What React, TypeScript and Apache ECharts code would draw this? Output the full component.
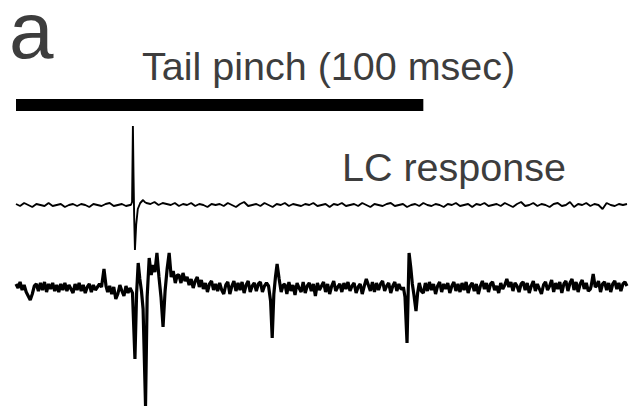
import React, { useEffect, useRef } from "react";
import * as echarts from "echarts";

// time axis in msec
const timeRange = [0, 150];
const stimulus = [0, 100]; // tail pinch, 100 msec
const stimulusLevel = 100;

// top trace (LC response): baseline noise, 1 ms step
const topStep = 1;
const topNoise = [
  1, -1, 2, 0, -2, 1, 0, -1, 2, -1,
  0, 1, -2, 0, 1, -1, 1, 0, -2, 1,
  0, -1, 1, 2, -1, 0, 1, -1, 0, 0,
  0, 0, 2, 1, 3, 0, 2, 1, 0, 2,
  -1, 1, 0, 2, -1, 1, 0, -2, 1, 0,
  1, -1, 2, 0, -2, 1, 3, -1, 0, 1,
  -1, 2, 0, -2, 1, 0, 2, -1, 1, 0,
  -1, 1, 0, 2, -1, 0, 1, -2, 1, 0,
  2, -1, 0, 1, -1, 2, 0, -2, 1, 0,
  -1, 1, 2, -1, 0, 1, -2, 0, 1, -1,
  2, 0, -1, 1, 0, -2, 1, 0, 2, -1,
  0, 1, -2, 1, 0, 2, -1, 0, 1, -1,
  2, 0, -2, 1, 3, -1, 0, 2, -1, 1,
  0, -2, 1, 2, -1, 0, 3, -2, 1, 0,
  2, -1, 1, 0, -4, 2, 0, -1, 1, 0,
  1,
];
const topSpikes = [
  [[28.2, 0], [28.5, 3], [28.7, 79], [28.85, 30], [29.0, -10], [29.2, -45], [29.5, -20], [29.9, -4], [30.5, 2], [31.2, 5], [31.6, 3]],
];

// bottom trace: baseline noise, 0.5 ms step
const bottomStep = 0.5;
const bottomNoise = [
  5, 1, 7, -1, 4, -3, -7, -11, -5, 3, 5, -2, 6, -1, 7, -3, 5, 0, 6, -2,
  4, -3, 5, -1, 6, -2, 4, 0, -4, 5, -1, 6, -2, 4, -4, 2, 5, -3, 4, -1,
  2, 5, 0, 0, 0, -3, 3, -5, 2, -10, -5, 4, -2, -7, 3, -4, 0, 0, 0, 0,
  0, 0, 0, 0, 0, 0, 0, 0, 0, 0, 0, 0, 0, 0, 0, 0, 0, 0, 0, 0,
  14, 6, 16, 8, 12, 4, 10, 1, 8, 12, 2, 9, 0, 6, -3, 5, 8, -1, 5, -2,
  6, -1, -5, 4, 7, -5, 3, 8, -2, 6, -1, 7, -4, 4, 8, -3, 3, 6, -2, 5,
  7, -3, 3, 6, 0, 0, 0, 0, 0, 0, 0, 0, 5, -5, 7, -2, 4, -6, 6, 1,
  -3, 7, -4, 3, 6, -2, 5, -7, 6, -1, 3, 7, -3, 5, -5, 3, 8, -2, 2, 5,
  -3, 6, 0, 7, -2, 3, 6, -4, 2, 5, -5, 3, 10, 4, -2, 7, -3, 6, -1, 5,
  8, -2, 3, 6, -4, 3, 7, -2, 5, 0, 0, 0, 0, 0, 0, 0, 0, 0, 0, 0,
  -4, 6, -2, 7, -1, 5, -5, 3, 7, -3, 5, 0, 6, -4, 3, 7, -2, 5, -3, 6,
  -1, 7, -4, 3, 6, -2, 5, -5, 3, 8, 0, 6, -3, 5, 7, -1, 3, -4, 6, 0,
  4, 10, 2, 7, -2, 6, 3, -3, 5, 7, -1, 6, -4, 3, 8, -2, 5, 0, -5, 4,
  7, -1, 3, 9, -3, 6, 0, 7, -4, 5, 8, -2, 6, 10, -1, 7, -3, 5, 9, 0,
  6, -2, 0, 0, 0, 3, 8, -3, 5, 7, -1, 6, -3, 5, 8, 0, 6, -2, 5, 7,
  3,
];
const bottomSpikes = [
  [[21.0, 2], [21.6, 20], [22.1, 3]],
  [[28.0, 1], [28.6, -4], [29.2, -70], [29.6, -5], [30.0, 26], [30.4, 10], [30.8, -2], [31.2, -20], [31.8, -117], [32.2, -8], [32.7, 31], [33.2, 14], [33.6, 24], [34.1, 17], [34.6, 36], [35.1, 12], [35.6, -8], [36.1, -38], [36.6, -2], [37.1, 20], [37.6, 36], [38.1, 12], [38.6, 18], [39.1, 6], [39.6, 14]],
  [[62.0, 3], [62.5, -12], [62.9, -49], [63.3, -5], [63.7, 12], [64.1, 25], [64.6, 10], [65.1, -3], [65.6, 4]],
  [[95.1, 2], [95.5, -8], [96.0, -54], [96.3, 0], [96.5, 36], [96.9, 22], [97.3, 5], [97.7, -6], [98.2, -22], [98.6, -4], [99.0, 6], [99.5, -2]],
  [[141.2, 3], [141.7, 15], [142.2, 2]],
];

const panelLabel = "a";
const stimulusLabel = "Tail pinch (100 msec)";
const traceLabel = "LC response";

function buildTrace(noise: number[], step: number, spikes: number[][][]) {
  const pts: number[][] = [];
  noise.forEach((v, i) => {
    const t = i * step;
    const inside = spikes.some((s) => t >= s[0][0] && t <= s[s.length - 1][0]);
    if (!inside) pts.push([t, v]);
  });
  spikes.forEach((s) => s.forEach((p) => pts.push(p)));
  pts.sort((a, b) => a[0] - b[0]);
  return pts;
}

export default function App() {
  const ref = useRef<HTMLDivElement>(null);
  useEffect(() => {
    if (!ref.current) return;
    const chart = echarts.init(ref.current, null, { renderer: "svg" });
    const font = "'Liberation Sans', Arial, sans-serif";
    const textColor = "#3d3d3d";
    chart.setOption({
      animation: false,
      backgroundColor: "#ffffff",
      grid: [
        { left: 16, width: 611, top: 90, height: 165, show: false },
        { left: 16, width: 611, top: 246, height: 162, show: false },
      ],
      xAxis: [
        { type: "value", gridIndex: 0, min: timeRange[0], max: timeRange[1], show: false },
        { type: "value", gridIndex: 1, min: timeRange[0], max: timeRange[1], show: false },
      ],
      yAxis: [
        { type: "value", gridIndex: 0, min: -50, max: 115, show: false },
        { type: "value", gridIndex: 1, min: -119, max: 43, show: false },
      ],
      series: [
        {
          type: "line",
          xAxisIndex: 0,
          yAxisIndex: 0,
          data: [[stimulus[0], stimulusLevel], [stimulus[1], stimulusLevel]],
          symbol: "none",
          lineStyle: { color: "#000", width: 12, cap: "butt" },
          silent: true,
        },
        {
          type: "line",
          xAxisIndex: 0,
          yAxisIndex: 0,
          data: buildTrace(topNoise, topStep, topSpikes),
          symbol: "none",
          lineStyle: { color: "#000", width: 1.9 },
          silent: true,
        },
        {
          type: "line",
          xAxisIndex: 1,
          yAxisIndex: 1,
          data: buildTrace(bottomNoise, bottomStep, bottomSpikes),
          symbol: "none",
          lineStyle: { color: "#000", width: 3.2 },
          silent: true,
        },
      ],
      graphic: [
        {
          type: "text",
          x: 9,
          y: 30,
          style: { text: panelLabel, fontSize: 80, lineHeight: 44, fontFamily: font, fill: textColor, verticalAlign: "middle", align: "left" },
        },
        {
          type: "text",
          x: 142,
          y: 66,
          style: { text: stimulusLabel, fontSize: 39.5, fontFamily: font, fill: textColor, verticalAlign: "middle", align: "left" },
        },
        {
          type: "text",
          x: 342,
          y: 167,
          style: { text: traceLabel, fontSize: 39.5, fontFamily: font, fill: textColor, verticalAlign: "middle", align: "left" },
        },
      ],
    });
    return () => chart.dispose();
  }, []);
  return <div ref={ref} style={{ width: 629, height: 408, position: "absolute", left: 0, top: 0 }} />;
}
